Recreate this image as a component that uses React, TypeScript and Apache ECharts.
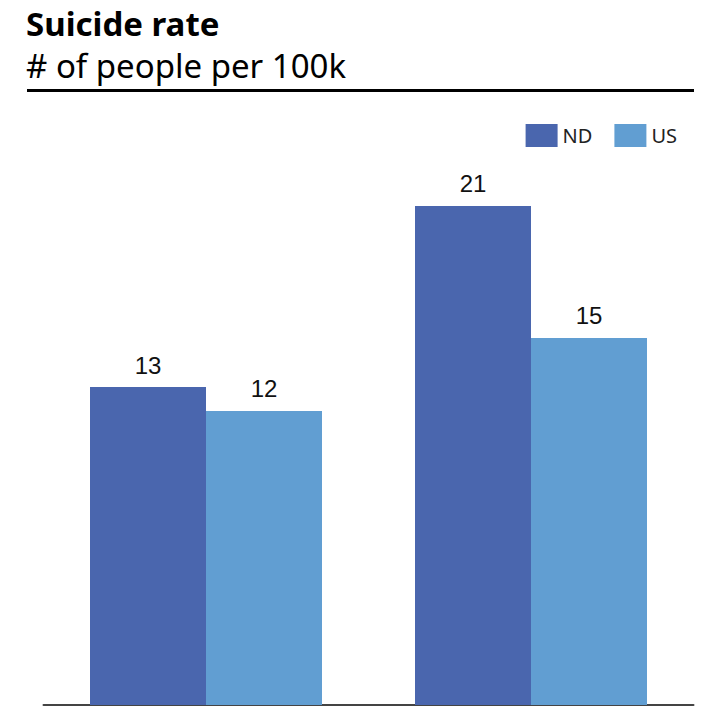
import React, { useEffect, useRef } from "react";
import * as echarts from "echarts";

const categories = ["Group A", "Group B"];
const ndValues = [13.14, 20.62];
const usValues = [12.15, 15.17];
const seriesNames = ["ND", "US"];
const titleText = "Suicide rate";
const subtitleText = "# of people per 100k";

export default function App() {
  const ref = useRef<HTMLDivElement>(null);
  useEffect(() => {
    if (!ref.current) return;
    const chart = echarts.init(ref.current, undefined, { renderer: "svg" });
    const labelCfg = {
      show: true,
      position: "top",
      distance: 10,
      formatter: (p: any) => String(Math.round(p.value)),
      fontFamily: "Liberation Sans",
      fontSize: 24,
      color: "#111",
    };
    chart.setOption({
      animation: false,
      backgroundColor: "#fff",
      graphic: [
        {
          type: "text",
          x: 26,
          y: 23,
          style: {
            text: titleText,
            fill: "#000",
            font: "bold 33px 'Noto Sans'",
            verticalAlign: "middle",
            align: "left",
          },
        },
        {
          type: "text",
          x: 26,
          y: 65,
          style: {
            text: subtitleText,
            fill: "#000",
            font: "33px 'Noto Sans'",
            verticalAlign: "middle",
            align: "left",
          },
        },
        {
          type: "line",
          shape: { x1: 27, y1: 90.5, x2: 694, y2: 90.5 },
          style: { stroke: "#000", lineWidth: 3 },
        },
      ],
      legend: {
        data: seriesNames,
        right: 22,
        top: 119,
        itemWidth: 32,
        itemHeight: 23,
        itemGap: 22,
        icon: "rect",
        textStyle: { fontFamily: "Noto Sans", fontSize: 20, color: "#222" },
      },
      grid: { left: 43.5, right: 10.5, top: 148.4, bottom: 1, containLabel: false },
      xAxis: {
        type: "category",
        data: categories,
        axisLine: { show: true, lineStyle: { color: "#444", width: 2 } },
        axisTick: { show: false },
        axisLabel: { show: false },
      },
      yAxis: {
        type: "value",
        min: 0,
        max: 23,
        show: false,
        splitLine: { show: false },
      },
      series: [
        {
          name: seriesNames[0],
          type: "bar",
          data: ndValues,
          barWidth: 116,
          barGap: "0%",
          itemStyle: { color: "#4a66ae" },
          label: labelCfg,
        },
        {
          name: seriesNames[1],
          type: "bar",
          data: usValues,
          barWidth: 116,
          barGap: "0%",
          itemStyle: { color: "#619ed2" },
          label: labelCfg,
        },
      ],
    });
    return () => chart.dispose();
  }, []);
  return (
    <div
      ref={ref}
      style={{ position: "fixed", left: 0, top: 0, width: 704, height: 706 }}
    />
  );
}
